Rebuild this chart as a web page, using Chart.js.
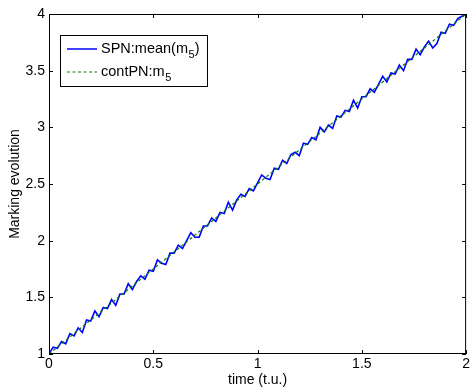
<!DOCTYPE html>
<html>
<head>
<meta charset="utf-8">
<script src="https://cdn.jsdelivr.net/npm/chart.js@4/dist/chart.umd.min.js"></script>
<style>
  html, body { margin: 0; padding: 0; background: #fff; }
  #wrap { width: 472px; height: 389px; }
</style>
</head>
<body>
<div id="wrap"><canvas id="chart" width="472" height="389"></canvas></div>
<script>
// ---- data ----
const spnTime = [
  0.00, 0.02, 0.04, 0.06, 0.08, 0.10, 0.12, 0.14, 0.16, 0.18,
  0.20, 0.22, 0.24, 0.26, 0.28, 0.30, 0.32, 0.34, 0.36, 0.38,
  0.40, 0.42, 0.44, 0.46, 0.48, 0.50, 0.52, 0.54, 0.56, 0.58,
  0.60, 0.62, 0.64, 0.66, 0.68, 0.70, 0.72, 0.74, 0.76, 0.78,
  0.80, 0.82, 0.84, 0.86, 0.88, 0.90, 0.92, 0.94, 0.96, 0.98,
  1.00, 1.02, 1.04, 1.06, 1.08, 1.10, 1.12, 1.14, 1.16, 1.18,
  1.20, 1.22, 1.24, 1.26, 1.28, 1.30, 1.32, 1.34, 1.36, 1.38,
  1.40, 1.42, 1.44, 1.46, 1.48, 1.50, 1.52, 1.54, 1.56, 1.58,
  1.60, 1.62, 1.64, 1.66, 1.68, 1.70, 1.72, 1.74, 1.76, 1.78,
  1.80, 1.82, 1.84, 1.86, 1.88, 1.90, 1.92, 1.94, 1.96, 1.98,
  2.00
];
const spnMean = [
  1.00, 1.06, 1.05, 1.11, 1.09, 1.18, 1.16, 1.23, 1.19, 1.30,
  1.29, 1.38, 1.33, 1.41, 1.40, 1.48, 1.43, 1.53, 1.53, 1.62,
  1.57, 1.64, 1.69, 1.66, 1.74, 1.73, 1.83, 1.80, 1.79, 1.89,
  1.89, 1.96, 1.93, 2.00, 2.07, 2.03, 2.03, 2.13, 2.13, 2.20,
  2.17, 2.25, 2.24, 2.34, 2.27, 2.36, 2.41, 2.39, 2.46, 2.44,
  2.51, 2.58, 2.55, 2.54, 2.64, 2.63, 2.71, 2.68, 2.76, 2.78,
  2.75, 2.86, 2.85, 2.91, 2.89, 3.00, 2.96, 3.02, 2.99, 3.10,
  3.09, 3.15, 3.14, 3.24, 3.17, 3.27, 3.27, 3.34, 3.31, 3.38,
  3.45, 3.40, 3.48, 3.47, 3.55, 3.50, 3.60, 3.60, 3.69, 3.64,
  3.71, 3.76, 3.70, 3.74, 3.84, 3.83, 3.91, 3.90, 3.96, 3.98,
  4.00
];
const contTime = [0, 0.5, 1, 1.5, 2];
const contM5 = [1, 1.75, 2.5, 3.25, 4];
const xTicks = [0, 0.5, 1, 1.5, 2];
const yTicks = [1, 1.5, 2, 2.5, 3, 3.5, 4];

const FONT = 'Arial, "Liberation Sans", Helvetica, sans-serif';

function toPoints(xs, ys) {
  return xs.map((x, i) => ({ x: x, y: ys[i] }));
}

// box + inward ticks on all four sides, plus a legend with subscripts
const boxPlugin = {
  id: 'box',
  afterDraw(chart) {
    const ctx = chart.ctx;
    const a = chart.chartArea;
    const xs = chart.scales.x;
    const ys = chart.scales.y;
    const len = 4;
    ctx.save();
    ctx.strokeStyle = '#000';
    ctx.lineWidth = 1;
    ctx.strokeRect(a.left + 0.5, a.top + 0.5, a.right - a.left - 1, a.bottom - a.top - 1);
    ctx.beginPath();
    xTicks.forEach(v => {
      const px = Math.round(xs.getPixelForValue(v)) + 0.5;
      ctx.moveTo(px, a.bottom); ctx.lineTo(px, a.bottom - len);
      ctx.moveTo(px, a.top); ctx.lineTo(px, a.top + len);
    });
    yTicks.forEach(v => {
      const py = Math.round(ys.getPixelForValue(v)) + 0.5;
      ctx.moveTo(a.left, py); ctx.lineTo(a.left + len, py);
      ctx.moveTo(a.right, py); ctx.lineTo(a.right - len, py);
    });
    ctx.stroke();

    const lx = 60, ly = 35, lw = 147, lh = 51;
    ctx.fillStyle = '#fff';
    ctx.fillRect(lx, ly, lw, lh);
    ctx.strokeRect(lx + 0.5, ly + 0.5, lw, lh);
    const rows = [
      { y: 49, color: '#0000ff', dash: [], width: 1.5, pre: 'SPN:mean(m', post: ')' },
      { y: 72, color: '#008000', dash: [3, 2.5], width: 1.2, pre: 'contPN:m', post: '' }
    ];
    rows.forEach(r => {
      ctx.beginPath();
      ctx.setLineDash(r.dash);
      ctx.strokeStyle = r.color;
      ctx.lineWidth = r.width;
      ctx.moveTo(67, r.y); ctx.lineTo(97, r.y);
      ctx.stroke();
      ctx.setLineDash([]);
      ctx.fillStyle = '#000';
      ctx.textBaseline = 'middle';
      ctx.font = '14.5px ' + FONT;
      let tx = 101;
      ctx.fillText(r.pre, tx, r.y);
      tx += ctx.measureText(r.pre).width;
      ctx.font = '11px ' + FONT;
      ctx.fillText('5', tx + 0.5, r.y + 6);
      tx += ctx.measureText('5').width + 0.5;
      ctx.font = '14.5px ' + FONT;
      ctx.fillText(r.post, tx, r.y);
    });
    ctx.restore();
  }
};

new Chart(document.getElementById('chart').getContext('2d'), {
  type: 'line',
  data: {
    datasets: [
      {
        label: 'SPN:mean(m5)',
        data: toPoints(spnTime, spnMean),
        borderColor: '#0000ff',
        borderWidth: 1.6,
        pointRadius: 0,
        tension: 0,
        fill: false,
        order: 2
      },
      {
        label: 'contPN:m5',
        data: toPoints(contTime, contM5),
        borderColor: '#008000',
        borderWidth: 1.2,
        borderDash: [3, 2.5],
        pointRadius: 0,
        tension: 0,
        fill: false,
        order: 1
      }
    ]
  },
  options: {
    responsive: false,
    animation: false,
    layout: { padding: { top: 14, right: 2, left: 0, bottom: 0 } },
    plugins: {
      legend: { display: false },
      tooltip: { enabled: false }
    },
    scales: {
      x: {
        type: 'linear',
        min: 0,
        max: 2,
        afterBuildTicks: s => { s.ticks = xTicks.map(v => ({ value: v })); },
        afterFit: s => { s.height = 35; },
        ticks: {
          color: '#000',
          padding: 2,
          maxRotation: 0,
          font: { family: FONT, size: 14 },
          callback: v => String(v)
        },
        grid: { display: false, drawTicks: false },
        border: { display: false },
        title: {
          display: true,
          text: 'time (t.u.)',
          color: '#000',
          font: { family: FONT, size: 14 },
          padding: { top: 0, bottom: 0 }
        }
      },
      y: {
        type: 'linear',
        min: 1,
        max: 4,
        afterBuildTicks: s => { s.ticks = yTicks.map(v => ({ value: v })); },
        afterFit: s => { s.width = 49; },
        ticks: {
          color: '#000',
          padding: 4,
          font: { family: FONT, size: 14 },
          callback: v => String(v)
        },
        grid: { display: false, drawTicks: false },
        border: { display: false },
        title: {
          display: true,
          text: 'Marking evolution',
          color: '#000',
          font: { family: FONT, size: 14 },
          padding: { top: 7, bottom: 0 }
        }
      }
    }
  },
  plugins: [boxPlugin]
});
</script>
</body>
</html>
